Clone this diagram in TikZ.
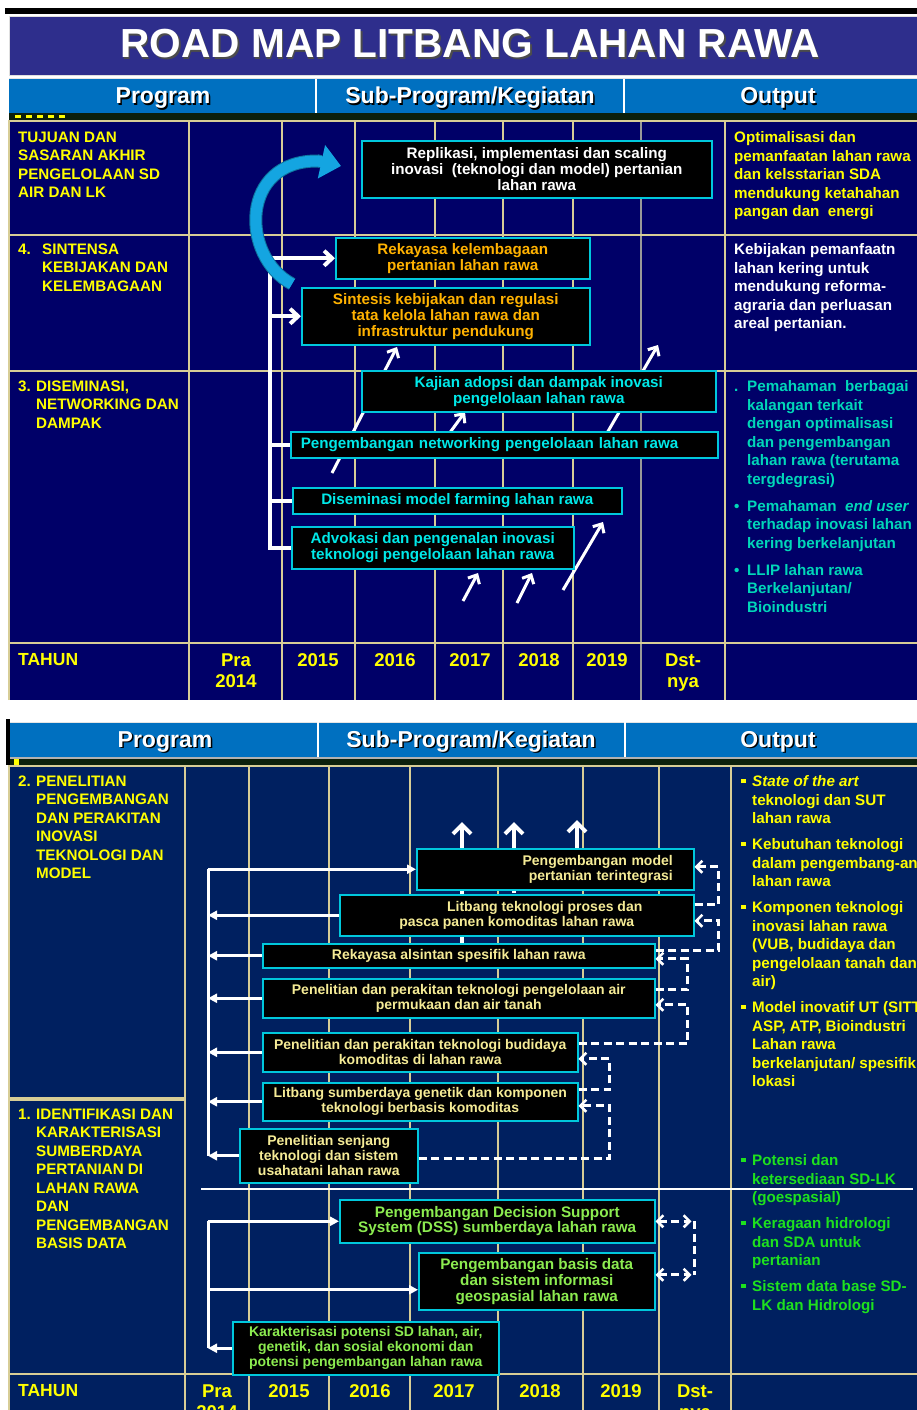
\documentclass[tikz,border=0pt]{standalone}
\usepackage{fontspec}
\setmainfont{Liberation Sans}
\usetikzlibrary{arrows.meta,calc}
\definecolor{navyA}{RGB}{0,0,104}
\definecolor{navyB}{RGB}{0,32,96}
\definecolor{hdrblue}{RGB}{0,112,192}
\definecolor{titlebg}{RGB}{46,46,140}
\definecolor{gridc}{RGB}{215,205,150}
\definecolor{boxline}{RGB}{0,200,220}
\definecolor{orangeT}{RGB}{255,178,0}
\definecolor{cyanT}{RGB}{0,232,232}
\definecolor{tealT}{RGB}{0,215,185}
\definecolor{yellowT}{RGB}{255,255,0}
\definecolor{paleY}{RGB}{245,235,150}
\definecolor{greenB}{RGB}{140,235,80}
\definecolor{greenO}{RGB}{30,225,30}
\definecolor{arcblue}{RGB}{20,165,225}
\definecolor{stripc}{RGB}{12,32,12}
\newcommand\fsz[2]{\fontsize{#1}{#2}\selectfont}
\newcommand\sqb{\makebox[11pt][l]{\raisebox{3.5pt}{\rule{4.5pt}{4.5pt}}}}
\newcommand\hng{\hspace*{11pt}}
\newcommand\dotb[1]{\makebox[13pt][l]{#1}}
\newcommand\hngb{\hspace*{13pt}}
\begin{document}
\begin{tikzpicture}[x=1pt,y=-1pt,
  tprog/.style={anchor=north west, inner sep=0pt, align=left, font=\bfseries\fsz{15.2}{18.5}, text=yellowT},
  outT/.style={anchor=north west, inner sep=0pt, align=left, font=\bfseries\fsz{15.2}{18.5}},
  yearT/.style={anchor=north, inner sep=0pt, align=center, font=\bfseries\fsz{18.5}{21}, text=yellowT},
  box/.style={draw=boxline, line width=1.5pt, fill=black, anchor=north west, inner sep=0pt, align=center},
  topbox/.style={box, font=\bfseries\fsz{15.2}{16}},
  botbox/.style={box, font=\bfseries\fsz{14}{15}, text=paleY},
  gbox/.style={box, text=greenB},
  wl/.style={draw=white, line width=4pt},
  wl2/.style={draw=white, line width=3pt},
  dl/.style={draw=white, line width=2.6pt, dash pattern=on 8pt off 4.5pt},
  barb/.style={-{Straight Barb[length=8pt,width=15pt]}},
  sbarb/.style={-{Straight Barb[length=6pt,width=12pt]}},
  tri/.style={-{Triangle[length=9pt,width=9pt]}},
  uparr/.style={draw=white, line width=4pt, -{Straight Barb[length=9pt,width=18pt]}},
  hdr/.style={font=\bfseries\fsz{23}{23}, anchor=base, inner sep=0pt},
  gridl/.style={draw=gridc, line width=1.3pt}]
\useasboundingbox (0,0) rectangle (917,1410);
\fill[white] (0,0) rectangle (917,1410);

% ===== title =====
\fill[black] (5,8) rectangle (917,14);
\fill[titlebg] (9,17) rectangle (917,76);
\draw[white!75!gray, line width=1pt] (9,17) rectangle (917,76);
\node[font=\bfseries\fsz{40.6}{40.6}, text=black!70, inner sep=0pt] (titles) at (471.5,45.5) {ROAD MAP LITBANG LAHAN RAWA};
\node[font=\bfseries\fsz{40.6}{40.6}, text=white, inner sep=0pt] (title) at (470,44) {ROAD MAP LITBANG LAHAN RAWA};

% ===== header 1 =====
\fill[hdrblue] (9,79) rectangle (917,113);
\draw[white!80!gray, line width=1pt] (9,79) -- (917,79);
\draw[white, line width=1.2pt] (316,79) -- (316,113) (624,79) -- (624,113);
\node[hdr, text=black] (h1ps) at (164.5,105.5) {Program};
\node[hdr, text=white] (h1p) at (163,104) {Program};
\node[hdr, text=black] (h1ss) at (471.5,105.5) {Sub-Program/Kegiatan};
\node[hdr, text=white] (h1s) at (470,104) {Sub-Program/Kegiatan};
\node[hdr, text=black] (h1os) at (779.5,105.5) {Output};
\node[hdr, text=white] (h1o) at (778,104) {Output};
\fill[stripc] (9,113) rectangle (917,121);
\draw[yellowT, line width=3pt, dash pattern=on 6pt off 5pt] (15,117) -- (66,117);

% ===== top table =====
\fill[navyA] (9,121) rectangle (917,700);
\foreach \x in {189,282,355,435,503,573,725} \draw[gridl] (\x,121) -- (\x,700);
\draw[draw=gray!80, line width=1.3pt] (641,121) -- (641,700);
\foreach \y in {235,371,643} \draw[gridl] (9,\y) -- (917,\y);
\draw[gridl] (9,700) -- (9,121) -- (917,121);

% program texts (top)
\node[tprog] (t1) at (18,131.5) {TUJUAN DAN\\SASARAN AKHIR\\PENGELOLAAN SD\\AIR DAN LK};
\node[tprog] (t4) at (18,243.5) {\makebox[24pt][l]{4.}SINTENSA\\\hspace*{24pt}KEBIJAKAN DAN\\\hspace*{24pt}KELEMBAGAAN};
\node[tprog] (t3) at (18,380.5) {\makebox[18pt][l]{3.}DISEMINASI,\\\hspace*{18pt}NETWORKING DAN\\\hspace*{18pt}DAMPAK};
\node[tprog, font=\bfseries\fsz{17.5}{20}] (tahun1) at (18,653.5) {TAHUN};
\node[yearT] (y1a) at (236,653.4) {Pra\\2014};
\node[yearT] (y1b) at (318,653.4) {2015};
\node[yearT] (y1c) at (395,653.4) {2016};
\node[yearT] (y1d) at (470,653.4) {2017};
\node[yearT] (y1e) at (539,653.4) {2018};
\node[yearT] (y1f) at (607,653.4) {2019};
\node[yearT] (y1g) at (683,653.4) {Dst-\\nya};

% output texts (top)
\node[outT, text=yellowT] (o1) at (734,131.5) {Optimalisasi dan\\pemanfaatan lahan rawa\\dan kelsstarian SDA\\mendukung ketahahan\\pangan dan\ \ energi};
\node[outT, text=white] (o2) at (734,243.5) {Kebijakan pemanfaatn\\lahan kering untuk\\mendukung reforma-\\agraria dan perluasan\\areal pertanian.};
\node[outT, text=tealT] (o3) at (734,380.5) {\dotb{.}Pemahaman\ \ berbagai\\\hngb kalangan terkait\\\hngb dengan optimalisasi\\\hngb dan pengembangan\\\hngb lahan rawa (terutama\\\hngb tergdegrasi)\\[8.5pt]\dotb{•}Pemahaman\ \ \textit{end user}\\\hngb terhadap inovasi lahan\\\hngb kering berkelanjutan\\[8.5pt]\dotb{•}LLIP lahan rawa\\\hngb Berkelanjutan/\\\hngb Bioindustri};

% diagonal arrows (behind boxes)
\coordinate (da1s) at (332,473); \coordinate (da1e) at (397,347);
\coordinate (da2s) at (443,442); \coordinate (da2e) at (465,412);
\coordinate (da3s) at (603,440); \coordinate (da3e) at (658,345);
\coordinate (da4s) at (463,601); \coordinate (da4e) at (478,573);
\coordinate (da5s) at (517,603); \coordinate (da5e) at (532,573);
\coordinate (da6s) at (563,590); \coordinate (da6e) at (603,522);
\foreach \s/\e in {da1s/da1e,da2s/da2e,da3s/da3e,da4s/da4e,da5s/da5e,da6s/da6e}
  \draw[white, line width=3pt, -{Straight Barb[length=7pt,width=13pt]}] (\s) -- (\e);

% boxes (top)
\node[topbox, text=white, minimum width=350pt, minimum height=57pt] (bA) at (361,140) {Replikasi, implementasi dan scaling\\inovasi\ \ (teknologi dan model) pertanian\\lahan rawa};
\node[topbox, text=orangeT, minimum width=254pt, minimum height=41pt] (bB) at (335,237) {Rekayasa kelembagaan\\pertanian lahan rawa};
\node[topbox, text=orangeT, minimum width=288pt, minimum height=57pt] (bC) at (301,287) {Sintesis kebijakan dan regulasi\\tata kelola lahan rawa dan\\infrastruktur pendukung};
\node[topbox, text=cyanT, minimum width=354pt, minimum height=41pt] (bD) at (361,370) {Kajian adopsi dan dampak inovasi\\pengelolaan lahan rawa};
\node[topbox, text=cyanT, align=left, inner xsep=10pt, text width=407pt, minimum height=26pt] (bE) at (290,431) {Pengembangan networking pengelolaan lahan rawa};
\node[topbox, text=cyanT, minimum width=329pt, minimum height=26pt] (bF) at (292,487) {Diseminasi model farming lahan rawa};
\node[topbox, text=cyanT, minimum width=282pt, minimum height=42pt] (bG) at (291,526) {Advokasi dan pengenalan inovasi\\teknologi pengelolaan lahan rawa};

% white bracket (top)
\coordinate (tv) at (270,258);
\draw[wl] (tv |- bB.west) -- (tv |- bG.west) -- (bG.west);
\draw[wl] (tv |- bE.west) -- (bE.west);
\draw[wl] (tv |- bF.west) -- (bF.west);
\draw[wl, barb] (tv |- bC.west) -- (bC.west);
\draw[wl, barb] (tv |- bB.west) -- (bB.west);

% blue curved arrow
\coordinate (arcS) at (292,284);
\coordinate (arcM) at (318,161);
\coordinate (arcE) at (341,166);
\draw[arcblue!70!black, line width=13pt] (arcS) .. controls (240,256) and (240,160) .. (arcM) -- ($(arcM)+(3,0.7)$);
\draw[arcblue, line width=11pt, -{Triangle[length=20pt,width=33pt]}] (arcS) .. controls (240,256) and (240,160) .. (arcM) -- (arcE);

% ===== header 2 =====
\fill[black] (6,719) rectangle (10,765);
\fill[hdrblue] (10,722) rectangle (917,757);
\draw[white!80!gray, line width=1pt] (10,722) -- (917,722);
\draw[white, line width=1.2pt] (318,722) -- (318,757) (625,722) -- (625,757);
\node[hdr, text=black] (h2ps) at (166.5,748.5) {Program};
\node[hdr, text=white] (h2p) at (165,747) {Program};
\node[hdr, text=black] (h2ss) at (472.5,748.5) {Sub-Program/Kegiatan};
\node[hdr, text=white] (h2s) at (471,747) {Sub-Program/Kegiatan};
\node[hdr, text=black] (h2os) at (779.5,748.5) {Output};
\node[hdr, text=white] (h2o) at (778,747) {Output};
\fill[gray!60] (10,757) rectangle (917,759);
\fill[stripc] (10,759) rectangle (917,766);
\fill[yellowT] (14,759) rectangle (19,766);

% ===== bottom table =====
\fill[navyB] (9,766) rectangle (917,1410);
\foreach \x in {185,249,329,410,498,583,659,731} \draw[gridl] (\x,766) -- (\x,1410);
\draw[gridl] (9,1374) -- (917,1374);
\draw[gridl] (9,1098) -- (185,1098) (9,1100) -- (185,1100);
\draw[gridl] (9,1410) -- (9,766) -- (917,766);
\draw[white, line width=1.5pt] (201,1189) -- (913,1189);

% program texts (bottom)
\node[tprog] (b2) at (18,775.5) {\makebox[18pt][l]{2.}PENELITIAN\\\hspace*{18pt}PENGEMBANGAN\\\hspace*{18pt}DAN PERAKITAN\\\hspace*{18pt}INOVASI\\\hspace*{18pt}TEKNOLOGI DAN\\\hspace*{18pt}MODEL};
\node[tprog] (b1) at (18,1108.5) {\makebox[18pt][l]{1.}IDENTIFIKASI DAN\\\hspace*{18pt}KARAKTERISASI\\\hspace*{18pt}SUMBERDAYA\\\hspace*{18pt}PERTANIAN DI\\\hspace*{18pt}LAHAN RAWA\\\hspace*{18pt}DAN\\\hspace*{18pt}PENGEMBANGAN\\\hspace*{18pt}BASIS DATA};
\node[tprog, font=\bfseries\fsz{17.5}{20}] (tahun2) at (18,1384.5) {TAHUN};
\node[yearT] (y2a) at (217,1384.5) {Pra\\2014};
\node[yearT] (y2b) at (289,1384.5) {2015};
\node[yearT] (y2c) at (370,1384.5) {2016};
\node[yearT] (y2d) at (454,1384.5) {2017};
\node[yearT] (y2e) at (540,1384.5) {2018};
\node[yearT] (y2f) at (621,1384.5) {2019};
\node[yearT] (y2g) at (695,1384.5) {Dst-\\nya};

% output texts (bottom)
\node[outT, text=yellowT] (o4) at (741,775.5) {\sqb\textit{State of the art}\\\hng teknologi dan SUT\\\hng lahan rawa\\[7.5pt]\sqb Kebutuhan teknologi\\\hng dalam pengembang-an\\\hng lahan rawa\\[7.5pt]\sqb Komponen teknologi\\\hng inovasi lahan rawa\\\hng (VUB, budidaya dan\\\hng pengelolaan tanah dan\\\hng air)\\[7.5pt]\sqb Model inovatif UT (SITT\\\hng ASP, ATP, Bioindustri\\\hng Lahan rawa\\\hng berkelanjutan/ spesifik\\\hng lokasi};
\node[outT, text=greenO] (o5) at (741,1154.5) {\sqb Potensi dan\\\hng ketersediaan SD-LK\\\hng (goespasial)\\[7.5pt]\sqb Keragaan hidrologi\\\hng dan SDA untuk\\\hng pertanian\\[7.5pt]\sqb Sistem data base SD-\\\hng LK dan Hidrologi};

% up arrows (behind boxes)
\coordinate (u1s) at (462,943); \coordinate (u1) at (462,822);
\coordinate (u2s) at (514,893); \coordinate (u2) at (514,822);
\coordinate (u3s) at (577,850); \coordinate (u3) at (577,820);
\draw[uparr] (u1s) -- (u1);
\draw[uparr] (u2s) -- (u2);
\draw[uparr] (u3s) -- (u3);

% boxes (bottom)
\node[botbox, align=right, inner xsep=21pt, text width=235pt, minimum height=41pt] (p1) at (416,848) {Pengembangan model\hspace*{8pt}\\pertanian terintegrasi};
\node[botbox, minimum width=354pt, minimum height=41pt] (p2) at (339,894) {\hspace*{56pt}Litbang teknologi proses dan\\pasca panen komoditas lahan rawa};
\node[botbox, minimum width=392pt, minimum height=24pt] (p3) at (262,943) {Rekayasa alsintan spesifik lahan rawa};
\node[botbox, minimum width=392pt, minimum height=39pt] (p4) at (262,978) {Penelitian dan perakitan teknologi pengelolaan air\\permukaan dan air tanah};
\node[botbox, minimum width=315pt, minimum height=39pt] (p5) at (262,1032) {Penelitian dan perakitan teknologi budidaya\\komoditas di lahan rawa};
\node[botbox, minimum width=315pt, minimum height=38pt] (p6) at (262,1082) {Litbang sumberdaya genetik dan komponen\\teknologi berbasis komoditas};
\node[botbox, minimum width=178pt, minimum height=54pt] (p7) at (239,1128) {Penelitian senjang\\teknologi dan sistem\\usahatani lahan rawa};
\node[gbox, font=\bfseries\fsz{15.3}{15}, minimum width=315pt, minimum height=43pt] (q1) at (339,1199) {Pengembangan Decision Support\\System (DSS) sumberdaya lahan rawa};
\node[gbox, font=\bfseries\fsz{15.3}{16}, minimum width=236pt, minimum height=57pt] (q2) at (418,1252) {Pengembangan basis data\\dan sistem informasi\\geospasial lahan rawa};
\node[gbox, font=\bfseries\fsz{14}{15}, minimum width=266pt, minimum height=53pt] (q3) at (232,1321) {Karakterisasi potensi SD lahan, air,\\genetik, dan sosial ekonomi dan\\potensi pengembangan lahan rawa};

% white connectors (bottom)
\coordinate (bv1) at (208,866);
\draw[wl2] (bv1 |- p1.west) -- (bv1 |- p7.west);
\draw[wl2, tri] (bv1 |- p1.west) -- (p1.west);
\foreach \n in {p2,p3,p4,p5,p6,p7} \draw[wl2, tri] (\n.west) -- (\n.west -| bv1);
\coordinate (bv2) at (208,1216);
\draw[wl2] (bv2 |- q1.west) -- (bv2 |- q3.west);
\draw[wl2, tri] (bv2 |- q1.west) -- (q1.west);
\draw[wl2, tri] ($(bv2 |- q2.west)+(0,8.5)$) -- ($(q2.west)+(0,8.5)$);
\draw[wl2, tri] (q3.west) -- (q3.west -| bv2);

% dashed feedback connectors
\draw[dl, sbarb] ($(p2.east)+(0,-10.5)$) -- ++(24,0) |- ($(p1.east)+(0,-2.5)$);
\draw[dl, sbarb] ($(p3.east)+(0,-5)$) -- ++(63,0) |- ($(p2.east)+(0,5.5)$);
\draw[dl, sbarb] ($(p4.east)+(0,-8.5)$) -- ++(32,0) |- ($(p3.east)+(0,3)$);
\draw[dl, sbarb] ($(p5.east)+(0,-8.5)$) -- ++(109,0) |- ($(p4.east)+(0,6.5)$);
\draw[dl, sbarb] ($(p6.east)+(0,-12)$) -- ++(31,0) |- ($(p5.east)+(0,6.5)$);
\draw[dl, sbarb] ($(p7.east)+(0,3)$) -- ++(191,0) |- ($(p6.east)+(0,4)$);
\draw[dl, {Straight Barb[length=6pt,width=12pt]}-{Straight Barb[length=6pt,width=12pt]}] (q1.east) -- ++(36,0);
\draw[dl, {Straight Barb[length=6pt,width=12pt]}-{Straight Barb[length=6pt,width=12pt]}] ($(q2.east)+(0,-6.5)$) -- ++(36,0);
\draw[dl] ($(q1.east)+(39,0)$) -- ($(q2.east)+(39,-6.5)$);
\end{tikzpicture}
\end{document}
